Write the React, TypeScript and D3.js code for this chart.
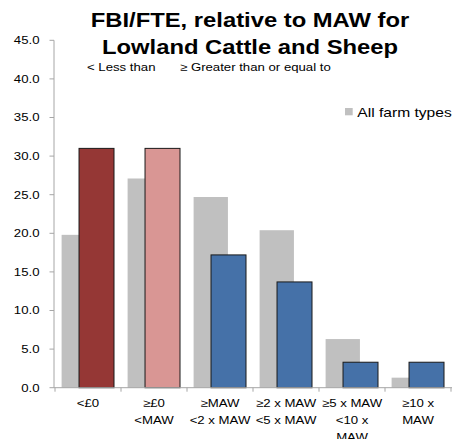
import React from "react";
import * as d3 from "d3";

const categories = ["<£0", "≥£0 <MAW", "≥MAW <2 x MAW", "≥2 x MAW <5 x MAW", "≥5 x MAW <10 x MAW", "≥10 x MAW"];
const categoryLines = [["<£0"], ["≥£0", "<MAW"], ["≥MAW", "<2 x MAW"], ["≥2 x MAW", "<5 x MAW"], ["≥5 x MAW", "<10 x", "MAW"], ["≥10 x", "MAW"]];
const allFarmTypes = [19.8, 27.1, 24.7, 20.4, 6.3, 1.3];
const lowland = [31.0, 31.0, 17.2, 13.7, 3.3, 3.3];
const barColors = ["#953735", "#D99694", "#4571A8", "#4571A8", "#4571A8", "#4571A8"];
const yTicks = [0, 5, 10, 15, 20, 25, 30, 35, 40, 45];
const titleLines = ["FBI/FTE, relative to MAW for", "Lowland Cattle and Sheep"];

const FONT = "'Liberation Sans', Arial, sans-serif";
const SX = 1.2;

export default function App() {
  const W = 454, H = 439;
  const x = d3.scaleBand<string>().domain(categories).range([55, 451]).padding(0);
  const y = d3.scaleLinear().domain([0, 45]).range([387.7, 40.3]);
  const axisColor = "#A6A6A6";
  const bw = x.bandwidth();
  const grayOff = bw * 0.1, grayW = bw * 0.52;
  const colOff = bw * 0.364, colW = bw * 0.53;

  const T = (props: { x: number; y: number; size: number; anchor?: string; bold?: boolean; sx?: number; children: any }) => (
    <text
      transform={`translate(${props.x},${props.y}) scale(${props.sx ?? SX},1)`}
      fontFamily={FONT}
      fontSize={props.size}
      fontWeight={props.bold ? "bold" : "normal"}
      textAnchor={props.anchor ?? "start"}
      fill="#000"
    >
      {props.children}
    </text>
  );

  return (
    <svg width={W} height={H} style={{ position: "absolute", left: 0, top: 0, background: "#fff" }}>
      <rect width={W} height={H} fill="#fff" />
      {titleLines.map((t, i) => (
        <T key={i} x={250} y={26.7 + i * 27.3} size={20} bold anchor="middle" sx={1.19}>{t}</T>
      ))}
      <T x={87} y={70.5} size={11}>{"< Less than"}</T>
      <T x={180} y={70.5} size={11}>{"≥ Greater than or equal to"}</T>

      {/* bars */}
      {categories.map((c, i) => (
        <rect key={"g" + i} x={x(c)! + grayOff} y={y(allFarmTypes[i])} width={grayW} height={y(0) - y(allFarmTypes[i])} fill="#C0C0C0" />
      ))}
      {categories.map((c, i) => (
        <rect key={"c" + i} x={x(c)! + colOff} y={y(lowland[i])} width={colW} height={y(0) - y(lowland[i])} fill={barColors[i]} stroke="#1a1a1a" strokeWidth={1} />
      ))}

      {/* y axis */}
      <line x1={54} x2={54} y1={y(45)} y2={y(0)} stroke={axisColor} strokeWidth={1} />
      {yTicks.map((t) => (
        <g key={t}>
          <line x1={49.5} x2={54} y1={y(t)} y2={y(t)} stroke={axisColor} />
          <T x={39.5} y={y(t) + 3.8} size={11} anchor="end">{t.toFixed(1)}</T>
        </g>
      ))}

      {/* x axis */}
      <line x1={54} x2={452} y1={y(0)} y2={y(0)} stroke={axisColor} strokeWidth={1} />
      {[...categories.map((c) => x(c)!), 451].map((px, i) => (
        <line key={i} x1={px} x2={px} y1={y(0)} y2={y(0) + 4} stroke={axisColor} />
      ))}
      {categories.map((c, i) => (
        <g key={"l" + i}>
          {categoryLines[i].map((ln, j) => (
            <T key={j} x={x(c)! + bw / 2} y={407.3 + j * 17} size={11} anchor="middle">{ln}</T>
          ))}
        </g>
      ))}

      {/* legend */}
      <rect x={345} y={108} width={7.7} height={7.3} fill="#C0C0C0" />
      <T x={357.3} y={117} size={13}>All farm types</T>
    </svg>
  );
}
